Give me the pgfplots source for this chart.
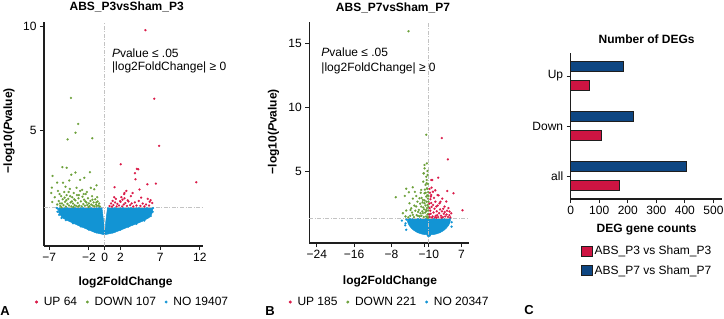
\documentclass[border=0pt]{standalone}
\usepackage{fontspec}
\setmainfont{Liberation Sans}
\usepackage{pgfplots}
\pgfplotsset{compat=1.18}
\definecolor{vred}{RGB}{218,26,72}
\definecolor{vgreen}{RGB}{108,160,58}
\definecolor{vblue}{RGB}{18,148,212}
\definecolor{bred}{RGB}{206,20,66}
\definecolor{bblue}{RGB}{14,70,130}
\definecolor{thr}{RGB}{195,195,195}
\definecolor{axc}{RGB}{30,30,30}
\tikzset{ttl/.style={font=\bfseries\fontsize{12}{14}\selectfont, anchor=center, inner sep=0pt}}
\pgfplotsset{
  base/.style={
    scale only axis, anchor=south west,
    axis lines=left,
    axis line style={-, line width=1.1pt, draw=axc},
    x axis line style={-}, y axis line style={-},
    tick align=outside, major tick length=4pt,
    tick style={line width=0.9pt, draw=axc},
    font=\fontsize{12}{14}\selectfont,
    /pgf/number format/assume math mode=true,
    tick label style={font=\fontsize{12}{14}\selectfont},
    label style={font=\bfseries\fontsize{12}{14}\selectfont},
    clip=false,
  },
  volc/.style={
    base,
    legend columns=3,
    legend style={draw=none, fill=none, font=\fontsize{12}{14}\selectfont,
      cells={font=\fontsize{12}{14}\selectfont},
      /tikz/every odd column/.append style={column sep=4pt},
      /tikz/every even column/.append style={column sep=7pt}},
    legend image code/.code={\draw[##1, mark size=1.25pt] plot coordinates {(0pt,0pt)};},
  },
  pts/.style={only marks, mark=*, mark size=1.1pt, color=#1, mark options={line width=0.1pt}, forget plot},
  thrline/.style={thr, line width=0.7pt, dash pattern=on 4pt off 1.5pt on 1pt off 1.5pt, forget plot},
}
\begin{document}
\begin{tikzpicture}
\useasboundingbox (0,0) rectangle (724pt,319pt);
% ---------------- Panel A ----------------
\begin{axis}[volc,
  at={(44pt,73pt)}, width=159pt, height=224pt,
  xmin=-7.66, xmax=12.4, ymin=-0.54, ymax=10.2,
  xtick={-7,-2,0,2,7,12}, xticklabels={−7,−2,0,2,7,12},
  ytick={5,10},
  xlabel={log2FoldChange},
  xlabel style={at={(axis description cs:0.513,-0.161)}, anchor=center},
  ylabel={−log10(\textit{P}value)},
  ylabel style={at={(axis description cs:-0.22,0.515)}, anchor=center},
  legend style={at={(axis description cs:0.558,-0.25)}, anchor=center},
]
\addplot[fill=vblue, draw=vblue, line width=0.5pt, forget plot] coordinates {
(-5.7,1.3) (-5.85,1.2) (-5.8,1.05) (-5.6,0.95) (-5.3,0.8) (-4.6,0.66) (-3.2,0.42)
(-2.2,0.26) (-1.2,0.1) (-0.4,0.03) (0,0.0) (0.4,0.03) (1.2,0.1) (2.3,0.27) (3.5,0.45)
(4.8,0.65) (5.6,0.82) (5.95,1.0) (6.05,1.15) (5.95,1.3) (0.35,1.3) (0.12,0.6)
(0.03,0.15) (-0.03,0.15) (-0.12,0.6) (-0.35,1.3)} -- cycle;
\addplot[pts=vblue] coordinates {
(-5.9,1.25) (-5.95,1.1) (-5.75,0.95) (-5.45,0.8) (-4.9,0.7) (-4.0,0.55) (-3.0,0.4)
(-2.0,0.25) (-1.0,0.12) (1.0,0.12) (2.0,0.25) (3.0,0.4) (4.0,0.52) (5.0,0.68)
(5.8,0.9) (6.05,1.1) (6.0,1.25) (-0.45,1.25) (0.45,1.25) (-6.05,1.28) (6.1,1.28)};
\addplot[pts=vgreen] coordinates {
(-4.26,6.56) (-3.35,5.31) (-3.69,4.89) (-4.68,4.57) (-1.57,4.63) (-5.34,3.24) (-4.8,3.21)
(-6.58,2.82) (-3.69,2.98) (-4.22,2.88) (-1.86,3.0) (-2.57,2.73) (-3.1,2.63) (-6.67,2.26)
(-6.0,2.5) (-5.26,2.49) (-4.47,2.6) (-1.03,2.37) (-1.33,2.18) (-6.62,1.57)
(-6.0,1.45) (-5.8,1.62) (-5.6,1.38) (-5.5,1.85) (-5.4,1.5) (-5.3,1.7) (-5.2,1.42)
(-5.1,2.05) (-5.0,1.58) (-4.9,1.35) (-4.8,1.9) (-4.7,1.48) (-4.6,1.72) (-4.5,1.4)
(-4.4,2.2) (-4.3,1.55) (-4.2,1.36) (-4.1,1.8) (-4.0,1.5) (-3.9,2.0) (-3.8,1.42)
(-3.7,1.65) (-3.6,1.38) (-3.5,1.9) (-3.4,1.52) (-3.3,1.75) (-3.2,1.4) (-3.1,2.1)
(-3.0,1.6) (-2.9,1.36) (-2.8,1.82) (-2.7,1.47) (-2.6,1.68) (-2.5,1.39) (-2.4,1.95)
(-2.3,1.55) (-2.2,1.42) (-2.1,1.75) (-2.0,1.5) (-1.9,1.37) (-1.8,1.62) (-1.7,1.45)
(-1.6,1.85) (-1.5,1.4) (-1.4,1.55) (-1.3,1.36) (-1.2,1.7) (-1.1,1.45) (-1.0,1.38)
(-0.9,1.6) (-0.8,1.4) (-0.7,1.5) (-0.6,1.35) (-5.7,1.95) (-4.95,2.3) (-4.55,2.05)
(-3.55,2.25) (-2.85,2.15) (-2.25,2.05) (-1.75,2.25) (-6.3,1.8) (-5.9,2.1) (-5.45,1.32)
(-4.85,1.65) (-4.35,1.85) (-3.85,1.7) (-3.35,1.35) (-2.65,1.95) (-2.05,1.33)
(-1.55,1.68) (-1.05,1.55) (-6.75,2.0) (-5.65,1.5) (-4.15,1.6) (-3.25,1.9) (-2.45,1.6)
(-0.95,1.8) (-5.05,1.78) (-3.95,1.33)};
\addplot[pts=vred] coordinates {
(5.14,9.81) (6.25,6.52) (6.87,4.26) (2.03,3.38) (4.06,3.16) (4.22,3.14) (3.81,2.95)
(3.89,2.66) (11.55,2.52) (6.46,2.45) (5.38,2.42) (1.24,2.28) (4.39,2.17) (2.73,2.1)
(2.5,2.0) (2.45,1.95) (3.52,2.0) (5.43,1.72) (5.8,1.66) (5.67,1.58) (1.4,1.72)
(2.1,1.8) (2.25,1.68) (1.95,1.61)
(0.6,1.38) (0.8,1.5) (0.9,1.35) (1.0,1.62) (1.1,1.42) (1.3,1.55) (1.5,1.36) (1.6,1.48)
(1.8,1.4) (2.0,1.58) (2.2,1.36) (2.4,1.45) (2.6,1.52) (2.8,1.38) (3.0,1.6) (3.2,1.42)
(3.4,1.5) (3.6,1.35) (3.8,1.55) (4.0,1.4) (4.3,1.62) (4.5,1.38) (4.8,1.5) (5.0,1.36)
(5.2,1.45) (5.6,1.4) (6.0,1.52) (1.2,1.8) (2.5,1.75) (3.3,1.85) (4.6,1.78) (2.9,1.65)};
\addplot[thrline] coordinates {(0,-0.54) (0,10.2)};
\addplot[thrline] coordinates {(-7.66,1.3) (12.4,1.3)};
\node[ttl] at (rel axis cs:0.52,1.067) {ABS\_P3vsSham\_P3};
\node[anchor=west, inner sep=0pt, font=\fontsize{12}{14}\selectfont] at (axis cs:0.9,8.72) {\textit{P}value ≤ .05};
\node[anchor=west, inner sep=0pt, font=\fontsize{12}{14}\selectfont] at (axis cs:0.9,8.0) {|log2FoldChange| ≥ 0};
\addlegendimage{only marks, mark=*, color=vred}
\addlegendentry{UP 64}
\addlegendimage{only marks, mark=*, color=vgreen}
\addlegendentry{DOWN 107}
\addlegendimage{only marks, mark=*, color=vblue}
\addlegendentry{NO 19407}
\end{axis}
% ---------------- Panel B ----------------
\begin{axis}[volc,
  at={(309.3pt,76pt)}, width=159.7pt, height=221pt,
  xmin=-25.6, xmax=8.6, ymin=-0.63, ymax=16.66,
  xtick={-24,-16,-8,-1,0,7}, xticklabels={−24,−16,−8,,−10,7},
  ytick={5,10,15},
  xlabel={log2FoldChange},
  xlabel style={at={(axis description cs:0.505,-0.175)}, anchor=center},
  ylabel={−log10(\textit{P}value)},
  ylabel style={at={(axis description cs:-0.224,0.504)}, anchor=center},
  legend style={at={(axis description cs:0.504,-0.267)}, anchor=center},
]
\addplot[fill=vblue, draw=vblue, line width=0.5pt, forget plot] coordinates {
(-4.65,1.3) (-4.56,1.04) (-4.42,0.89) (-4.19,0.73) (-3.72,0.52) (-3.26,0.37) (-2.79,0.26)
(-2.33,0.17) (-1.86,0.11) (-1.4,0.06) (-0.93,0.03) (0,0) (0.93,0.03) (1.4,0.06)
(1.86,0.11) (2.33,0.17) (2.79,0.26) (3.26,0.37) (3.72,0.52) (4.19,0.73) (4.42,0.89)
(4.56,1.04) (4.65,1.3)} -- cycle;
\addplot[pts=vblue] coordinates {
(-5.78,1.12) (-5.06,0.75) (-4.99,0.91) (-4.84,0.4) (4.86,0.65) (4.9,1.0) (-4.8,1.2)
(0,-0.08) (-0.2,-0.05) (0.2,-0.05)};
\addplot[pts=vgreen] coordinates {
(-4.35,15.94) (-0.56,7.84) (-0.43,5.6) (-0.92,5.47) (-1.07,4.82) (-7.07,2.95) (-4.84,3.62)
(-3.43,3.73) (-4.28,3.34) (-5.14,3.05) (-3.92,1.95)
(-0.92,5.21) (-1.13,4.82) (-0.56,4.55) (-1.2,4.17) (-0.7,3.91) (-0.42,3.65) (-1.64,3.52)
(-0.92,3.26) (-1.99,2.87) (-1.27,2.74) (-2.7,3.05) (-3.42,2.84) (-2.99,3.37) (-4.13,2.48)
(-3.78,2.09) (-2.7,2.22) (-2.13,1.96) (-5.56,1.7) (-4.85,1.91) (-3.42,1.57) (-2.35,1.49)
(-1.27,1.7) (-0.56,1.96) (-1.64,2.22) (-0.92,2.48) (-0.56,3.0)
(-0.2,1.4) (-0.3,1.6) (-0.15,1.9) (-0.4,2.1) (-0.25,2.35) (-0.5,2.6) (-0.2,2.85)
(-0.35,3.1) (-0.15,3.35) (-0.3,3.6) (-0.2,4.0) (-0.45,4.3) (-0.25,4.7) (-0.6,1.45)
(-0.8,1.75) (-1.0,2.0) (-0.7,2.3) (-1.2,2.15) (-1.4,1.85) (-1.6,1.5) (-1.8,1.7)
(-1.1,1.4) (-0.9,2.7) (-0.65,3.3) (-0.85,3.55) (-1.35,2.55) (-2.0,1.45) (-2.3,1.8)
(-2.6,1.55) (-2.9,1.9) (-3.2,1.4) (-3.6,1.75) (-4.0,1.5) (-4.4,1.38) (-5.0,1.45)
(-2.45,2.6) (-1.85,2.45) (-3.1,2.3) (-0.1,2.2) (-0.1,1.65) (-0.55,1.85) (-1.55,2.9)
(-0.3,5.0) (-0.5,4.05) (-1.75,3.3) (-0.1,2.6) (-0.1,3.05) (-0.1,1.35) (-0.35,1.35)};
\addplot[pts=vred] coordinates {
(2.78,7.58) (4.07,5.91) (0.73,4.3) (2.0,4.48) (3.93,3.44) (5.29,3.26) (7.22,1.93)
(0.51,4.3) (0.87,3.38) (1.37,3.49) (1.87,3.12) (2.87,2.84) (2.3,2.48) (3.37,2.22)
(4.43,1.83) (0.51,3.12) (3.73,2.61) (1.59,2.22)
(0.2,1.4) (0.4,1.65) (0.3,1.9) (0.6,2.2) (0.5,2.5) (0.35,2.8) (0.8,1.45) (1.0,1.75)
(1.2,2.05) (0.9,2.35) (1.5,1.5) (1.7,1.85) (1.4,2.6) (2.0,1.4) (2.2,1.7) (2.4,2.0)
(2.6,1.5) (2.8,1.85) (3.0,1.4) (3.2,1.65) (3.5,1.45) (3.8,1.6) (4.1,1.4) (4.4,1.55)
(4.6,1.38) (1.1,2.9) (0.25,3.3) (0.6,3.7) (1.9,2.3) (3.1,2.05) (2.5,2.6) (0.15,2.1)
(0.7,1.35) (1.3,1.38) (1.8,1.55) (3.9,1.9) (4.8,1.7) (0.45,3.0) (2.1,3.1)
(0.1,1.6) (0.1,2.45) (0.15,3.6) (1.6,1.35) (2.7,1.35) (3.4,1.8) (4.2,2.1)};
\addplot[thrline] coordinates {(0,-0.63) (0,16.66)};
\addplot[thrline] coordinates {(-25.6,1.3) (8.6,1.3)};
\node[ttl] at (rel axis cs:0.524,1.066) {ABS\_P7vsSham\_P7};
\node[anchor=west, inner sep=0pt, font=\fontsize{12}{14}\selectfont] at (axis cs:-23.04,14.3) {\textit{P}value ≤ .05};
\node[anchor=west, inner sep=0pt, font=\fontsize{12}{14}\selectfont] at (axis cs:-23.04,13.05) {|log2FoldChange| ≥ 0};
\addlegendimage{only marks, mark=*, color=vred}
\addlegendentry{UP 185}
\addlegendimage{only marks, mark=*, color=vgreen}
\addlegendentry{DOWN 221}
\addlegendimage{only marks, mark=*, color=vblue}
\addlegendentry{NO 20347}
\end{axis}
% ---------------- Panel C ----------------
\begin{axis}[base,
  at={(570.7pt,120pt)}, width=151.3pt, height=146pt,
  xbar, bar width=10pt,
  xmin=0, xmax=530, ymin=-0.46, ymax=2.46,
  xtick={0,100,200,300,400,500},
  ytick={0,1,2}, yticklabels={all,Down,Up},
  xlabel={DEG gene counts},
  xlabel style={at={(axis description cs:0.502,-0.212)}, anchor=center},
  legend style={at={(axis description cs:0.045,-0.295)}, anchor=north west,
    draw=none, fill=none, font=\fontsize{12}{14}\selectfont, row sep=5pt},
  legend image code/.code={\draw[#1, line width=0.9pt] (0pt,-5pt) rectangle (11pt,5pt);},
]
\addplot[fill=bred, draw=axc, line width=0.9pt, bar shift=-9.5pt] coordinates {(171,0) (107,1) (64,2)};
\addlegendentry{ABS\_P3 vs Sham\_P3}
\addplot[fill=bblue, draw=axc, line width=0.9pt, bar shift=9.5pt] coordinates {(406,0) (221,1) (185,2)};
\addlegendentry{ABS\_P7 vs Sham\_P7}
\node[ttl] at (rel axis cs:0.502,1.096) {Number of DEGs};
\end{axis}
\node[font=\bfseries\fontsize{13}{15}\selectfont] at (5pt,8pt) {A};
\node[font=\bfseries\fontsize{13}{15}\selectfont] at (270pt,8pt) {B};
\node[font=\bfseries\fontsize{13}{15}\selectfont] at (529pt,9pt) {C};
\end{tikzpicture}
\end{document}
